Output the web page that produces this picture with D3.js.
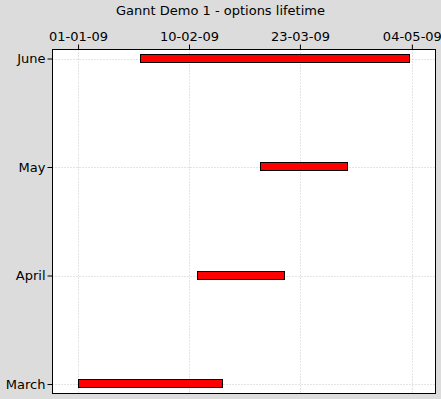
<!DOCTYPE html>
<html><head><meta charset="utf-8">
<script src="https://cdn.jsdelivr.net/npm/d3@7/dist/d3.min.js"></script>
<style>
body{margin:0;background:#dcdcdc;}
svg{display:block;}
text{font-family:"DejaVu Sans",sans-serif;fill:#000;}
</style></head><body>
<script>
const categories = ["March", "April", "May", "June"];
const startDates = ["2009-01-01", "2009-02-14", "2009-03-09", "2009-01-24"];
const endDates   = ["2009-02-23", "2009-03-18", "2009-04-10", "2009-05-03"];
const tickDates  = ["2009-01-01T00:00", "2009-02-10T21:00", "2009-03-23T18:00", "2009-05-04T00:00"];
const tickLabels = ["01-01-09", "10-02-09", "23-03-09", "04-05-09"];
const title = "Gannt Demo 1 - options lifetime";

const W = 441, H = 399;
const plot = {left: 52.5, right: 435.5, top: 49.5, bottom: 393.5};
const parse = s => new Date(s);

const svg = d3.select("body").append("svg").attr("width", W).attr("height", H);
svg.append("rect").attr("width", W).attr("height", H).attr("fill", "#dcdcdc");

const x = d3.scaleTime()
  .domain([parse("2008-12-22T14:00"), parse("2009-05-12T17:00")])
  .range([plot.left, plot.right]);
const y = d3.scalePoint().domain(categories).range([384, 58.5]);

svg.append("rect")
  .attr("x", plot.left).attr("y", plot.top)
  .attr("width", plot.right - plot.left).attr("height", plot.bottom - plot.top)
  .attr("fill", "#fff");

const ticks = tickDates.map(parse);
// grid
const grid = svg.append("g").attr("stroke", "#c8c8c8").attr("stroke-dasharray", "1,2").attr("stroke-width", 1);
ticks.forEach(t => {
  const px = Math.round(x(t)) + 0.5;
  grid.append("line").attr("x1", px).attr("x2", px).attr("y1", plot.top).attr("y2", plot.bottom);
});
categories.forEach(c => {
  const py = Math.round(y(c)) + 0.5;
  grid.append("line").attr("x1", plot.left).attr("x2", plot.right).attr("y1", py).attr("y2", py);
});

// bars
const data = categories.map((c, i) => ({c, s: parse(startDates[i]), e: parse(endDates[i])}));
svg.append("g").selectAll("rect").data(data).join("rect")
  .attr("x", d => Math.round(x(d.s)) + 0.5)
  .attr("width", d => Math.round(x(d.e)) - Math.round(x(d.s)))
  .attr("y", d => Math.round(y(d.c)) - 4.5)
  .attr("height", 8)
  .attr("fill", "#ff0000").attr("stroke", "#000").attr("stroke-width", 1);

// frame
svg.append("rect")
  .attr("x", plot.left).attr("y", plot.top)
  .attr("width", plot.right - plot.left).attr("height", plot.bottom - plot.top)
  .attr("fill", "none").attr("stroke", "#000").attr("stroke-width", 1);

// x axis (top)
const xAxis = d3.axisTop(x).tickValues(ticks).tickFormat((d, i) => tickLabels[i]).tickSize(5).tickPadding(4);
const gx = svg.append("g").attr("transform", `translate(0,${plot.top})`).call(xAxis);
gx.select(".domain").remove();
gx.selectAll("text").attr("font-size", 13).attr("font-family", "DejaVu Sans").attr("fill", "#000");

// y axis (left)
const yAxis = d3.axisLeft(y).tickSize(5).tickPadding(2);
const gy = svg.append("g").attr("transform", `translate(${plot.left},0)`).call(yAxis);
gy.select(".domain").remove();
gy.selectAll("text").attr("font-size", 13).attr("font-family", "DejaVu Sans").attr("fill", "#000");

svg.append("text").attr("x", W / 2).attr("y", 15).attr("text-anchor", "middle")
  .attr("font-size", 13).text(title);
</script>
</body></html>
